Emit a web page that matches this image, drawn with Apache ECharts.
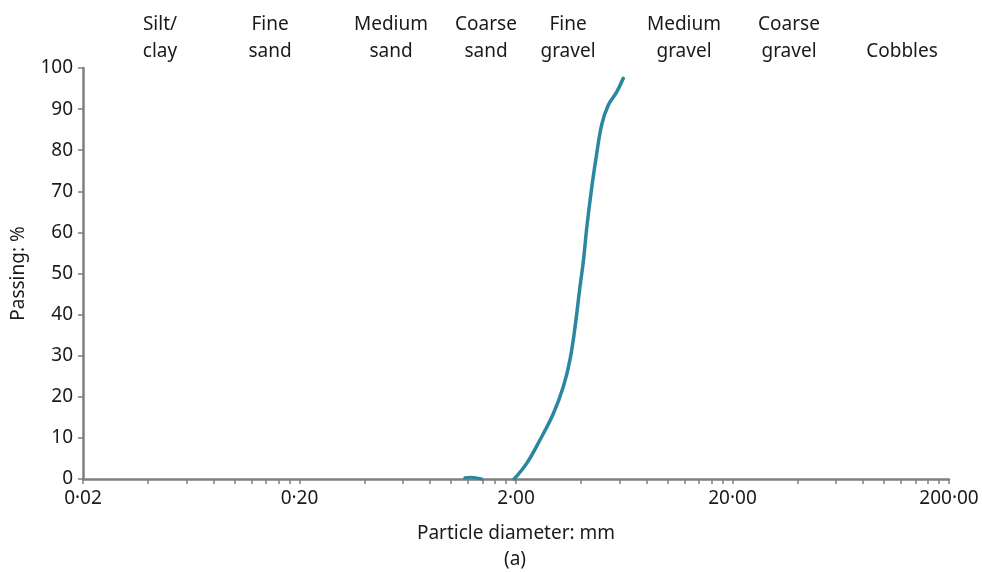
<!DOCTYPE html>
<html>
<head>
<meta charset="utf-8">
<script src="https://cdn.jsdelivr.net/npm/echarts@6/dist/echarts.min.js"></script>
<style>
html,body{margin:0;padding:0;background:#fff;}
#chart{width:982px;height:572px;}
</style>
</head>
<body>
<div id="chart"></div>
<script>
// ---- data ----
const zoneLabels = ['Silt/\nclay', 'Fine\nsand', 'Medium\nsand', 'Coarse\nsand', 'Fine\ngravel', 'Medium\ngravel', 'Coarse\ngravel', 'Cobbles'];
const xTickLabelValues = [0.02, 0.2, 2, 20, 200];
const xTickValues = [
  0.02, 0.04, 0.06, 0.08, 0.10, 0.12, 0.14, 0.16, 0.18,
  0.2, 0.4, 0.6, 0.8, 1.0, 1.2, 1.4, 1.6, 1.8,
  2, 4, 6, 8, 10, 12, 14, 16, 18,
  20, 40, 60, 80, 100, 120, 140, 160, 180, 200
];
const diameterMain = [1.96, 2.24, 2.58, 2.98, 3.31, 3.55, 3.75, 3.95, 4.10, 4.25, 4.48, 4.72, 4.98, 5.34, 5.84, 6.26];
const passingMain  = [0, 3.8, 9.5, 16.0, 22.5, 29.0, 37.1, 46.8, 53.3, 61.4, 71.1, 79.2, 86.3, 91.0, 94.2, 97.5];
const diameterBlip = [1.16, 1.24, 1.39];
const passingBlip  = [0.3, 0.4, 0.0];

// ---- layout ----
const zoneLabelX = [160, 270, 391, 486, 568, 684, 789, 902];
const FONT = '"Noto Sans", "Open Sans", sans-serif';
const FS = 19;
const TXT = '#1a1a1a';
const AXC = '#7f7f7f';
const LINEC = '#2a879f';

function fmt(v){ return Number(v).toFixed(2).replace('.', '\u00b7'); }
function pairs(xs, ys){ return xs.map((x,i)=>[x, ys[i]]); }

const chart = echarts.init(document.getElementById('chart'), null, {renderer:'canvas'});

const graphics = zoneLabels.map((t,i)=>{
  const two = t.indexOf('\n') >= 0;
  return {
    type:'text',
    x: zoneLabelX[i],
    y: two ? 11 : 38,
    style:{
      text: t,
      textAlign:'center',
      font: FS + 'px ' + FONT,
      fill: TXT,
      lineHeight: 27
    }
  };
});

graphics.push({
  type:'text', x: 515, y: 550,
  style:{ text:'(a)', textAlign:'center', font: FS + 'px ' + FONT, fill: TXT }
});

chart.setOption({
  animation:false,
  backgroundColor:'#fff',
  grid:{ left:83, right:33, top:68, bottom:93, containLabel:false, outerBoundsMode:'none' },
  graphic: graphics,
  xAxis:{
    type:'log',
    logBase:10,
    min:0.02,
    max:200,
    name:'Particle diameter: mm',
    nameLocation:'middle',
    nameGap:45,
    nameTextStyle:{ fontFamily:FONT, fontSize:FS, color:TXT },
    axisLine:{ show:true, onZero:false, lineStyle:{ color:AXC, width:2.5 } },
    axisTick:{ show:true, length:5, customValues:xTickValues, lineStyle:{ color:AXC, width:1.5 } },
    minorTick:{ show:false },
    axisLabel:{ customValues:xTickLabelValues, formatter:fmt, fontFamily:FONT, fontSize:FS, color:TXT, margin:10, showMinLabel:true, showMaxLabel:true },
    splitLine:{ show:false }
  },
  yAxis:{
    type:'value',
    min:0, max:100, interval:10,
    name:'Passing: %',
    nameLocation:'middle',
    nameGap:55,
    nameRotate:90,
    nameTextStyle:{ fontFamily:FONT, fontSize:FS, color:TXT },
    axisLine:{ show:true, lineStyle:{ color:AXC, width:2.5 } },
    axisTick:{ show:true, length:5, lineStyle:{ color:AXC, width:1.5 } },
    axisLabel:{ fontFamily:FONT, fontSize:FS, color:TXT, margin:10 },
    splitLine:{ show:false }
  },
  series:[
    {
      type:'line',
      data: pairs(diameterMain, passingMain),
      smooth:0.4,
      showSymbol:false,
      clip:false,
      lineStyle:{ color:LINEC, width:3.5, cap:'round' },
      z:5
    },
    {
      type:'line',
      data: pairs(diameterBlip, passingBlip),
      smooth:0.3,
      showSymbol:false,
      clip:false,
      lineStyle:{ color:LINEC, width:3, cap:'round' },
      z:5
    }
  ]
});
</script>
</body>
</html>
